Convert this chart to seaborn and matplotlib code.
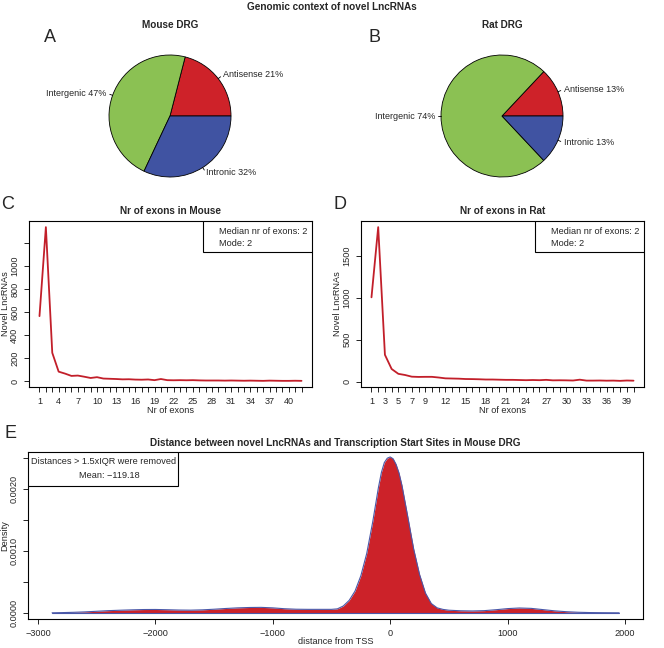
import numpy as np
import seaborn as sns
import matplotlib.pyplot as plt
from matplotlib.patches import Rectangle

# ---- data ----
pie_labels = ["Antisense", "Intergenic", "Intronic"]
mouse_pct = [21, 47, 32]
rat_pct = [13, 74, 13]
pie_colors = ["#ce2229", "#8bc153", "#4053a2"]

mouse_exons = list(range(1, 43))
mouse_counts = [565, 1339, 246, 82, 65, 45, 48, 38, 27, 34, 22, 20, 18, 15, 16, 13,
                12, 14, 8, 18, 8, 7, 8, 7, 8, 6, 5, 5, 5, 4, 5, 4, 3, 4, 3, 2,
                4, 3, 2, 2, 3, 2]
rat_exons = list(range(1, 41))
rat_counts = [1008, 1848, 320, 150, 92, 78, 58, 55, 56, 56, 48, 38, 36, 34, 30, 29,
              27, 24, 24, 22, 20, 20, 18, 16, 18, 16, 20, 14, 15, 14, 12, 22,
              11, 11, 12, 10, 11, 8, 12, 10]
mouse_xlabels = list(range(1, 41, 3))
rat_xlabels = [1, 3, 5, 7, 9] + list(range(12, 40, 3))

tss_dist = [-2880, -2800, -2700, -2600, -2500, -2400, -2300, -2200, -2100, -2000,
            -1900, -1800, -1700, -1600, -1500, -1400, -1300, -1200, -1100, -1000,
            -900, -800, -700, -600, -500, -450, -400, -350, -300, -250, -200,
            -150, -100, -75, -50, -25, 0, 25, 50, 75, 100, 150, 200, 250, 300,
            350, 400, 450, 500, 600, 700, 800, 900, 1000, 1100, 1200, 1300, 1400,
            1500, 1600, 1700, 1800, 1950]
tss_density = [0.0, 0.000003, 0.000008, 0.000015, 0.000025, 0.000035, 0.000042,
               0.000048, 0.000053, 0.000054, 0.000050, 0.000045, 0.000043, 0.000048,
               0.000058, 0.000070, 0.000080, 0.000086, 0.000088, 0.000080, 0.000066,
               0.000058, 0.000056, 0.000056, 0.000056, 0.000064, 0.00011, 0.00020,
               0.00035, 0.00060, 0.00096, 0.00146, 0.00203, 0.00227, 0.00243,
               0.00250, 0.00252, 0.00249, 0.00240, 0.00226, 0.00206, 0.00155,
               0.00103, 0.00062, 0.00032, 0.00015, 0.00008, 0.000055, 0.000042,
               0.000033, 0.000030, 0.000035, 0.000050, 0.000068, 0.000078, 0.000072,
               0.000052, 0.000032, 0.000018, 0.000009, 0.000004, 0.000002, 0.0]

LINE_RED = "#c21f2a"
DENS_BLUE = "#4a58a8"

sns.set_style("ticks")
plt.rcParams["font.family"] = ["Liberation Sans", "DejaVu Sans"]

W, H = 664, 648
fig = plt.figure(figsize=(W / 100, H / 100), dpi=100)


def box(x0, y0, x1, y1):
    return [x0 / W, 1 - y1 / H, (x1 - x0) / W, (y1 - y0) / H]


def ftext(x, y, s, **kw):
    fig.text(x / W, 1 - y / H, s, ha="center", va="center", **kw)


def r_axes(ax):
    for sp in ax.spines.values():
        sp.set_visible(True)
        sp.set_color("black")
        sp.set_linewidth(0.8)
    ax.tick_params(direction="out", length=3.5, width=0.6, labelsize=6.6,
                   pad=3.5, color="black")
    for lab in ax.get_yticklabels():
        lab.set_rotation(90)
        lab.set_va("center")


def draw_pie(cx, cy, vals, title, letter, letter_x):
    r = 61
    ax = fig.add_axes(box(cx - 120, cy - 100, cx + 120, cy + 100))
    wedges, _ = ax.pie(vals, colors=pie_colors, startangle=0, counterclock=True,
                       wedgeprops=dict(edgecolor="black", linewidth=0.6))
    ax.set_xlim(-120 / r, 120 / r)
    ax.set_ylim(-100 / r, 100 / r)
    ax.set_aspect("auto")
    ax.axis("off")
    for w, lab, v in zip(wedges, pie_labels, vals):
        ang = np.deg2rad((w.theta1 + w.theta2) / 2)
        c, s = np.cos(ang), np.sin(ang)
        ax.plot([c, 1.05 * c], [s, 1.05 * s], color="black", lw=0.6)
        ax.text(1.1 * c, 1.1 * s, f"{lab} {v}%", ha="left" if c > 0 else "right",
                va="center", fontsize=6.5)
    ftext(cx, 25, title, fontsize=7.2, fontweight="bold")
    ftext(letter_x, 37, letter, fontsize=13)


def exon_panel(x0, xs, ys, title, yticks, yshown, xshown, letter):
    x1 = x0 + 283
    ax = fig.add_axes(box(x0, 221, x1, 387))
    sns.lineplot(x=xs, y=ys, ax=ax, color=LINE_RED, lw=1.3)
    n = len(xs)
    ax.set_xlim(1 - 0.04 * (n - 1), n + 0.04 * (n - 1))
    lo, hi = min(ys), max(ys)
    ax.set_ylim(lo - 0.04 * (hi - lo), hi + 0.04 * (hi - lo))
    ax.set_xticks(xs)
    ax.set_xticklabels([str(i) if i in xshown else "" for i in xs])
    ax.set_yticks(yticks)
    ax.set_yticklabels([str(t) if t in yshown else "" for t in yticks])
    ax.set_xlabel("Nr of exons", fontsize=6.6)
    ax.set_ylabel("Novel LncRNAs", fontsize=6.6)
    ax.xaxis.set_label_coords(0.5, -0.112)
    ax.yaxis.set_label_coords(-0.066, 0.5)
    r_axes(ax)
    # legend box
    ax.add_patch(Rectangle(((203 - 29) / 283, (387 - 252) / 166), 109 / 283, 31 / 166,
                           transform=ax.transAxes, facecolor="white",
                           edgecolor="black", lw=0.8, zorder=5))
    ax.text((219 - 29) / 283, (387 - 232) / 166, "Median nr of exons: 2",
            transform=ax.transAxes, fontsize=6.6, va="center", zorder=6)
    ax.text((219 - 29) / 283, (387 - 243) / 166, "Mode: 2",
            transform=ax.transAxes, fontsize=6.6, va="center", zorder=6)
    ftext(x0 + 141.5, 211, title, fontsize=7.2, fontweight="bold")
    ftext(x0 - 21, 204, letter, fontsize=13)


ftext(332, 7, "Genomic context of novel LncRNAs", fontsize=7.2, fontweight="bold")
draw_pie(170, 116, mouse_pct, "Mouse DRG", "A", 50)
draw_pie(502, 116, rat_pct, "Rat DRG", "B", 375)

exon_panel(29, mouse_exons, mouse_counts, "Nr of exons in Mouse",
           [0, 200, 400, 600, 800, 1000, 1200], [0, 200, 400, 600, 800, 1000],
           mouse_xlabels, "C")
exon_panel(361, rat_exons, rat_counts, "Nr of exons in Rat",
           [0, 500, 1000, 1500], [0, 500, 1000, 1500], rat_xlabels, "D")

# ---- panel E: density of distances ----
axe = fig.add_axes(box(28, 452, 643, 619))
axe.fill_between(tss_dist, tss_density, color="#cc2229", lw=0, zorder=2)
sns.lineplot(x=tss_dist, y=tss_density, ax=axe, color=DENS_BLUE, lw=0.8, zorder=3)
axe.plot([tss_dist[0], tss_dist[-1]], [0, 0], color=DENS_BLUE, lw=0.8, zorder=3)
axe.set_xlim(-3085, 2153)
axe.set_ylim(-0.0001, 0.0026)
axe.set_xticks([-3000, -2000, -1000, 0, 1000, 2000])
dticks = [0.0, 0.0005, 0.0010, 0.0015, 0.0020, 0.0025]
axe.set_yticks(dticks)
axe.set_yticklabels(["0.0000", "", "0.0010", "", "0.0020", ""])
axe.set_xlabel("distance from TSS", fontsize=6.6)
axe.set_ylabel("Density", fontsize=6.6)
axe.xaxis.set_label_coords(0.5, -0.105)
axe.yaxis.set_label_coords(-0.031, 0.5)
r_axes(axe)
axe.add_patch(Rectangle((0, (619 - 486) / 167), 150 / 615, 34 / 167,
                        transform=axe.transAxes, facecolor="white",
                        edgecolor="black", lw=0.8, zorder=5))
axe.text((103.5 - 28) / 615, (619 - 461) / 167, "Distances > 1.5xIQR were removed",
         transform=axe.transAxes, fontsize=6.6, ha="center", va="center", zorder=6)
axe.text((109 - 28) / 615, (619 - 476) / 167, "Mean: \u2212119.18",
         transform=axe.transAxes, fontsize=6.6, ha="center", va="center", zorder=6)
ftext(335, 443, "Distance between novel LncRNAs and Transcription Start Sites in Mouse DRG",
      fontsize=7.2, fontweight="bold")
ftext(10, 434, "E", fontsize=13)

fig.savefig("out.png", dpi=100)
